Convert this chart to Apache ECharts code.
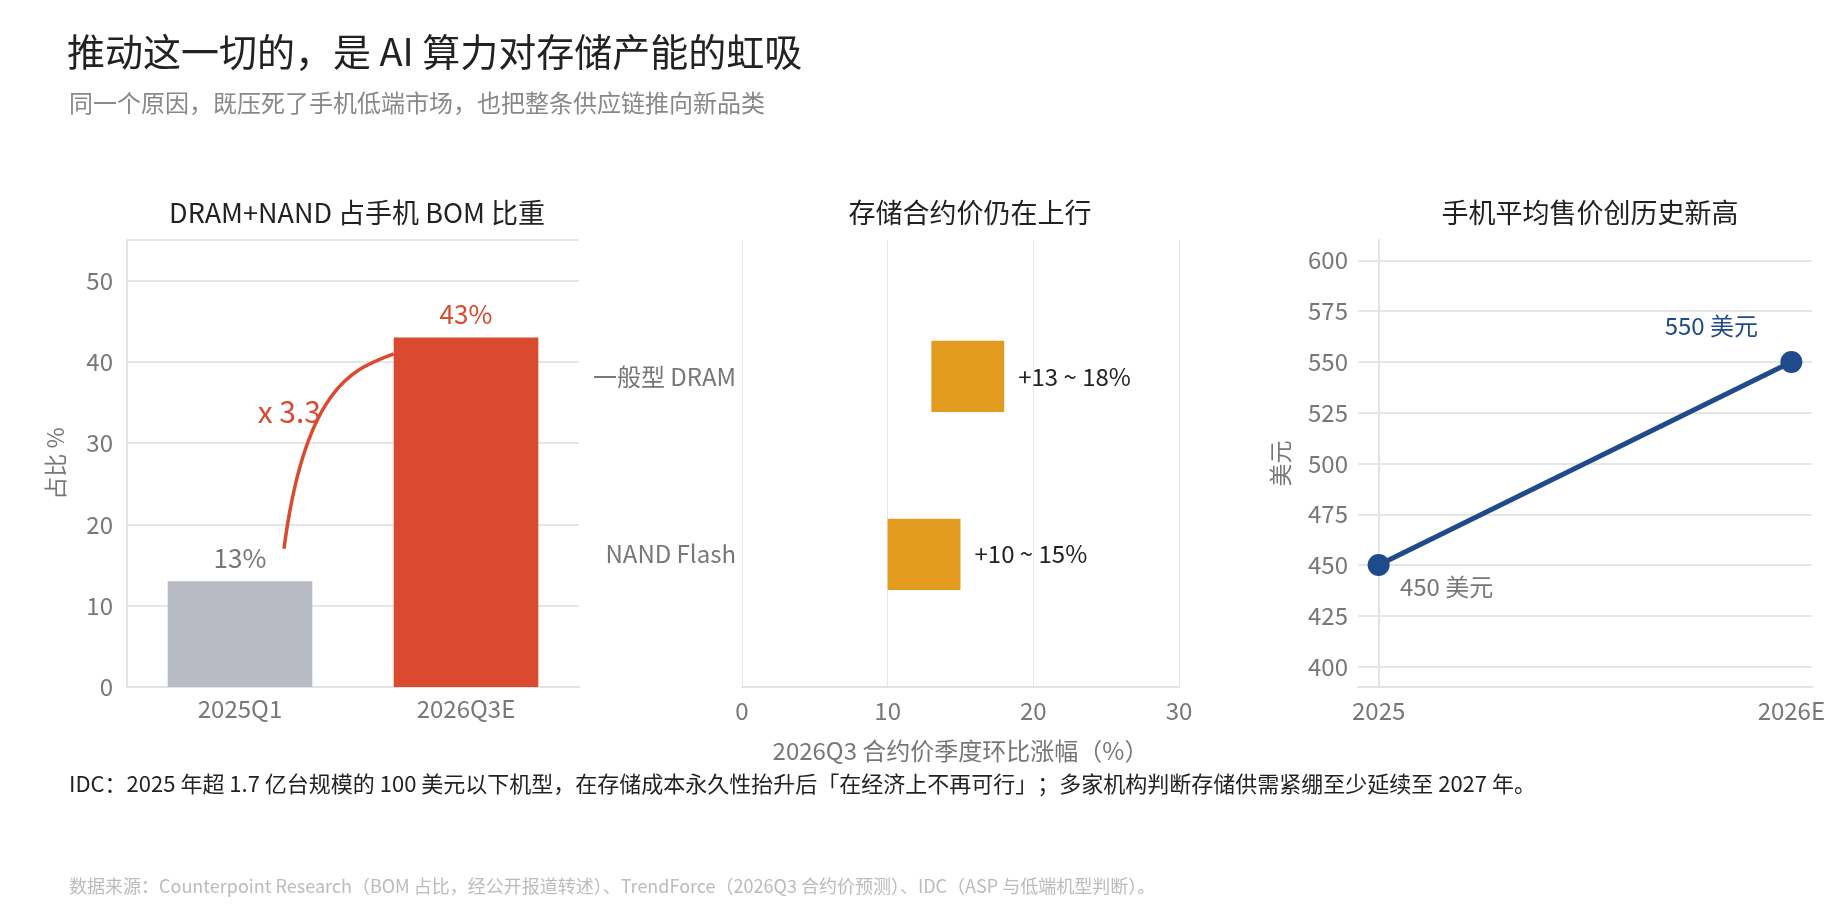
<!DOCTYPE html>
<html><head><meta charset="utf-8">
<script src="https://cdn.jsdelivr.net/npm/echarts@6/dist/echarts.min.js"></script>
<style>html,body{margin:0;background:#fff}#main{width:1847px;height:907px}</style>
</head><body><div id="main"></div>
<script>
// 数据
var bomCats = ['2025Q1', '2026Q3E']
var bomShare = [13, 43]
var memCats = ['NAND Flash', '一般型 DRAM']
var memLow = [10, 13]
var memHigh = [15, 18]
var aspYears = ['2025', '2026E']
var aspValues = [450, 550]
var aspTicks = [400, 425, 450, 475, 500, 525, 550, 575, 600]

var FONT = '"Noto Sans CJK SC", "Noto Sans", sans-serif'
var gray = '#777'
var chart = echarts.init(document.getElementById('main'))

chart.setOption({
  textStyle: { fontFamily: FONT },
  animation: false,
  title: [
    { text: '推动这一切的，是 AI 算力对存储产能的虹吸', left: 62, top: 28, textStyle: { fontSize: 38, fontWeight: 'normal', color: '#222', fontFamily: FONT } },
    { text: '同一个原因，既压死了手机低端市场，也把整条供应链推向新品类', left: 64, top: 86, textStyle: { fontSize: 24, fontWeight: 'normal', color: '#888', fontFamily: FONT } },
    { text: 'DRAM+NAND 占手机 BOM 比重', left: 352, top: 194, textAlign: 'center', textStyle: { fontSize: 27, fontWeight: 'normal', color: '#222', fontFamily: FONT } },
    { text: '存储合约价仍在上行', left: 965, top: 194, textAlign: 'center', textStyle: { fontSize: 27, fontWeight: 'normal', color: '#222', fontFamily: FONT } },
    { text: '手机平均售价创历史新高', left: 1585, top: 194, textAlign: 'center', textStyle: { fontSize: 27, fontWeight: 'normal', color: '#222', fontFamily: FONT } },
    { text: 'IDC：2025 年超 1.7 亿台规模的 100 美元以下机型，在存储成本永久性抬升后「在经济上不再可行」；多家机构判断存储供需紧绷至少延续至 2027 年。', left: 64, top: 768, textStyle: { fontSize: 22, fontWeight: 'normal', color: '#222', fontFamily: FONT } },
    { text: '数据来源：Counterpoint Research（BOM 占比，经公开报道转述）、TrendForce（2026Q3 合约价预测）、IDC（ASP 与低端机型判断）。', left: 64, top: 872, textStyle: { fontSize: 18, fontWeight: 'normal', color: '#bbb', fontFamily: FONT } }
  ],
  grid: [
    { left: 127, width: 452, top: 240, height: 447 },
    { left: 742, width: 437, top: 240, height: 447 },
    { left: 1358, width: 454, top: 240, height: 447 }
  ],
  xAxis: [
    { gridIndex: 0, type: 'category', data: bomCats,
      axisLine: { lineStyle: { color: '#e3e3e3', width: 2 } }, axisTick: { show: false },
      axisLabel: { color: gray, fontSize: 24, margin: 10 } },
    { gridIndex: 1, type: 'value', min: 0, max: 30, interval: 10,
      name: '2026Q3 合约价季度环比涨幅（%）', nameLocation: 'middle', nameGap: 52,
      nameTextStyle: { color: gray, fontSize: 24 },
      axisLine: { show: true, onZero: false, lineStyle: { color: '#e3e3e3', width: 2 } }, axisTick: { show: false },
      splitLine: { lineStyle: { color: '#e6e6e6' } },
      axisLabel: { color: gray, fontSize: 24, margin: 12 } },
    { gridIndex: 2, type: 'value', min: -0.05, max: 1.05,
      axisLine: { show: true, onZero: false, lineStyle: { color: '#e3e3e3', width: 2 } }, axisTick: { show: false },
      splitLine: { show: false },
      axisLabel: { color: gray, fontSize: 24, margin: 12, customValues: [0, 1],
        formatter: function (v) { return aspYears[Math.round(v)] } } }
  ],
  yAxis: [
    { gridIndex: 0, type: 'value', min: 0, max: 55, interval: 10,
      name: '占比 %', nameLocation: 'middle', nameGap: 60, nameTextStyle: { color: gray, fontSize: 23 },
      axisLine: { show: true, lineStyle: { color: '#e3e3e3', width: 2 } }, axisTick: { show: false },
      splitLine: { lineStyle: { color: '#e6e6e6', width: 2 } },
      axisLabel: { color: gray, fontSize: 24, margin: 14, showMaxLabel: false } },
    { gridIndex: 1, type: 'value', min: -0.746, max: 1.767,
      axisLine: { show: false }, axisTick: { show: false }, splitLine: { show: false },
      axisLabel: { color: gray, fontSize: 24, margin: 6, customValues: [0, 1],
        formatter: function (v) { return memCats[Math.round(v)] } } },
    { gridIndex: 2, type: 'value', min: 390, max: 610,
      name: '美元', nameLocation: 'middle', nameGap: 66, nameTextStyle: { color: gray, fontSize: 23 },
      axisLine: { show: true, lineStyle: { color: '#e3e3e3', width: 2 } },
      axisTick: { show: false, customValues: aspTicks },
      splitLine: { lineStyle: { color: '#e6e6e6', width: 2 } },
      axisLabel: { color: gray, fontSize: 24, margin: 10, customValues: aspTicks } }
  ],
  series: [
    { type: 'bar', xAxisIndex: 0, yAxisIndex: 0, barWidth: '64%',
      data: bomShare.map(function (v, i) {
        return { value: v, itemStyle: { color: i ? '#D94A2E' : '#B8BBC3' },
          label: { show: true, position: 'top', distance: 10, formatter: v + '%', fontSize: 26, color: i ? '#D94A2E' : gray } }
      }) },
    { type: 'custom', xAxisIndex: 0, yAxisIndex: 0, silent: true, z: 5,
      data: [[0, 17, 1, 41]],
      renderItem: function (params, api) {
        var a = api.coord([api.value(0), api.value(1)])
        var b = api.coord([api.value(2), api.value(3)])
        var w = api.size([1, 0])[0]
        a[0] += 44; b[0] -= w * 0.32
        return { type: 'group', children: [
          { type: 'bezierCurve', shape: { x1: a[0], y1: a[1], x2: b[0], y2: b[1], cpx1: a[0] + 22, cpy1: a[1] - 170, cpx2: a[0] + 75, cpy2: b[1] + 14 },
            style: { stroke: '#D94A2E', lineWidth: 3.5, fill: null } },
          { type: 'text', x: a[0] + 37, y: a[1] - 137, style: { text: 'x 3.3', fill: '#D94A2E', fontSize: 30, fontFamily: FONT, align: 'right', verticalAlign: 'middle' } }
        ] }
      } },
    { type: 'custom', xAxisIndex: 1, yAxisIndex: 1,
      data: memCats.map(function (c, i) { return [memLow[i], memHigh[i], i] }),
      encode: { x: [0, 1], y: 2 },
      renderItem: function (params, api) {
        var p0 = api.coord([api.value(0), api.value(2)])
        var p1 = api.coord([api.value(1), api.value(2)])
        var h = api.size([0, 0.4])[1]
        return { type: 'group', children: [
          { type: 'rect', shape: { x: p0[0], y: p0[1] - h / 2, width: p1[0] - p0[0], height: h }, style: { fill: '#E39B1F' } },
          { type: 'text', x: p1[0] + 14, y: p0[1], style: { text: '+' + api.value(0) + ' ~ ' + api.value(1) + '%', fill: '#222', fontSize: 24, fontFamily: FONT, verticalAlign: 'middle' } }
        ] }
      } },
    { type: 'line', xAxisIndex: 2, yAxisIndex: 2,
      data: aspValues.map(function (v, i) {
        return { value: [i, v], label: { color: i ? '#1F4A8C' : gray } }
      }),
      lineStyle: { color: '#1F4A8C', width: 5 }, itemStyle: { color: '#1F4A8C' },
      symbol: 'circle', symbolSize: 22,
      label: { show: true, fontSize: 24, formatter: function (p) { return p.value[1] + ' 美元' } },
      labelLayout: function (p) {
        return p.dataIndex === 0 ? { dx: 68, dy: 50 } : { dx: -80, dy: -8 }
      },
      emphasis: { disabled: true } }
  ]
})
</script></body></html>
